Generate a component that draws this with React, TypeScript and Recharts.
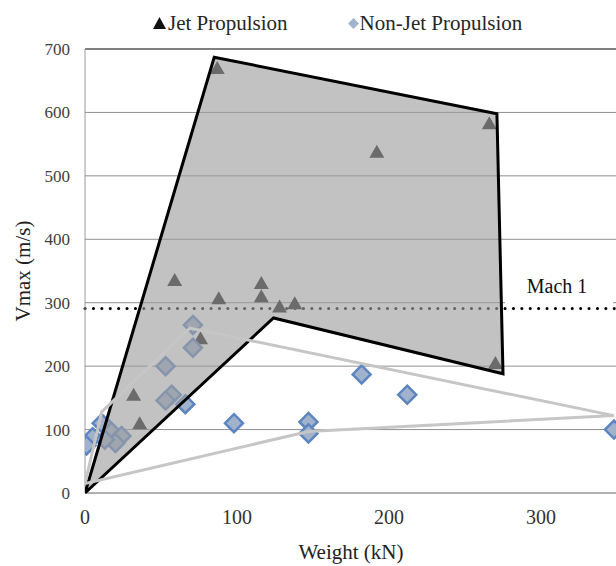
import { ScatterChart, Scatter, XAxis, YAxis, ZAxis, CartesianGrid, ReferenceLine, Legend } from 'recharts';

const xTicks = [0, 100, 200, 300];
const yTicks = [0, 100, 200, 300, 400, 500, 600, 700];

// measured points, weight in kN and Vmax in m/s
const jetWeight = [87, 192, 266, 270, 59, 88, 116, 116, 128, 138, 76, 32, 36];
const jetVmax = [670, 538, 583, 205, 336, 307, 331, 310, 294, 299, 244, 155, 110];

const nonJetWeight = [348, 212, 182, 147, 147, 98, 66, 57, 53, 53, 71, 71, 24, 20, 16, 11, 5, 1, 13];
const nonJetVmax = [100, 155, 187, 112, 94, 110, 140, 155, 146, 200, 229, 265, 90, 79, 100, 110, 88, 75, 84];

// envelope outlines
const jetHullWeight = [0, 85, 271, 275, 124, 0];
const jetHullVmax = [0, 687, 598, 188, 276, 0];
const nonJetHullWeight = [0, 11, 69, 348, 147, 0];
const nonJetHullVmax = [15, 128, 260, 122, 97, 15];

const machOne = 291;

const zip = (xs: number[], ys: number[]) => xs.map((x, i) => ({ weight: x, vmax: ys[i] }));

const jetData = zip(jetWeight, jetVmax);
const nonJetData = zip(nonJetWeight, nonJetVmax);
const jetHull = zip(jetHullWeight, jetHullVmax);
const nonJetHull = zip(nonJetHullWeight, nonJetHullVmax);

const serif = 'Liberation Serif';

const Triangle = (props: any) => {
    const { cx, cy } = props;
    return <polygon points={`${cx},${cy - 7} ${cx + 7.5},${cy + 6} ${cx - 7.5},${cy + 6}`} fill="#151515" />;
};

const Diamond = (props: any) => {
    const { cx, cy } = props;
    return (
        <polygon
            points={`${cx},${cy - 9} ${cx + 9},${cy} ${cx},${cy + 9} ${cx - 9},${cy}`}
            fill="#a1b2cc"
            stroke="#5d85c0"
            strokeWidth={2.5}
        />
    );
};

const NoDot = () => <g />;

const XTick = (props: any) => {
    const { x, y, payload } = props;
    return (
        <text x={x} y={y} dy={14} textAnchor="middle" fontFamily={serif} fontSize={20} fill="#333">
            {payload.value}
        </text>
    );
};

const YTick = (props: any) => {
    const { x, y, payload } = props;
    return (
        <text x={x} y={y} dy={6} textAnchor="end" fontFamily={serif} fontSize={17} fill="#404040">
            {payload.value}
        </text>
    );
};

const XTitle = (props: any) => {
    const { viewBox } = props;
    return (
        <text x={viewBox.x + viewBox.width / 2} y={viewBox.y + viewBox.height - 7} textAnchor="middle" fontFamily={serif} fontSize={21} fill="#222">
            Weight (kN)
        </text>
    );
};

const YTitle = (props: any) => {
    const { viewBox } = props;
    const cx = 30;
    const cy = viewBox.y + viewBox.height / 2;
    return (
        <text x={cx} y={cy} transform={`rotate(-90 ${cx} ${cy})`} textAnchor="middle" fontFamily={serif} fontSize={21} fill="#222">
            Vmax (m/s)
        </text>
    );
};

const MachLabel = (props: any) => {
    const { viewBox } = props;
    const right = viewBox.x + viewBox.width;
    return (
        <g>
            <rect x={right - 112} y={viewBox.y - 40} width={108} height={37} fill="#ffffff" />
            <text x={right - 60} y={viewBox.y - 15} textAnchor="middle" fontFamily={serif} fontSize={20} fill="#111">
                Mach 1
            </text>
        </g>
    );
};

const renderLegend = (props: any) => {
    const payload = (props.payload || []).filter(
        (entry: any) => entry.type !== 'none' && (entry.value === 'Jet Propulsion' || entry.value === 'Non-Jet Propulsion'),
    );
    return (
        <div
            style={{
                height: 30,
                display: 'flex',
                alignItems: 'center',
                paddingLeft: 153,
                fontFamily: serif,
                fontSize: 21,
                color: '#262626',
                whiteSpace: 'nowrap',
            }}
        >
            {payload.map((entry: any, i: number) => (
                <div key={i} style={{ display: 'flex', alignItems: 'center', marginRight: i === 0 ? 60 : 0 }}>
                    {entry.value === 'Jet Propulsion' ? (
                        <svg width={13} height={12} style={{ marginRight: 2 }}>
                            <polygon points="6.5,0 13,12 0,12" fill="#111" />
                        </svg>
                    ) : (
                        <svg width={11} height={11} style={{ marginRight: 1 }}>
                            <polygon points="5.5,0 11,5.5 5.5,11 0,5.5" fill="#a3b3cc" />
                        </svg>
                    )}
                    <span style={{ fontFamily: serif }}>{entry.value}</span>
                </div>
            ))}
        </div>
    );
};

const App = () => {
    return (
        <div
            style={{
                position: 'absolute',
                left: 0,
                top: 0,
                width: 616,
                height: 566,
                overflow: 'hidden',
                background: '#fff',
                fontFamily: serif,
            }}
        >
            <ScatterChart width={617} height={566} margin={{ top: 19, right: 0, bottom: 0, left: 0 }}>
                <CartesianGrid vertical={false} stroke="#8f8f8f" />
                <XAxis
                    type="number"
                    dataKey="weight"
                    domain={[0, 350]}
                    ticks={xTicks}
                    height={73}
                    stroke="#9a9a9a"
                    tickLine={false}
                    tickSize={0}
                    tickMargin={17}
                    tick={<XTick />}
                    label={<XTitle />}
                    allowDataOverflow
                />
                <YAxis
                    type="number"
                    dataKey="vmax"
                    domain={[0, 700]}
                    ticks={yTicks}
                    width={85}
                    stroke="#9a9a9a"
                    tickLine={false}
                    tickSize={0}
                    tickMargin={15}
                    tick={<YTick />}
                    label={<YTitle />}
                />
                <ZAxis range={[60, 60]} />
                <Legend verticalAlign="top" content={renderLegend} wrapperStyle={{ top: 8, left: 0, width: 617 }} />
                <Scatter name="Jet Propulsion" data={jetData} shape={<Triangle />} isAnimationActive={false} />
                <Scatter name="Non-Jet Propulsion" data={nonJetData} shape={<Diamond />} isAnimationActive={false} />
                <Scatter
                    name="Jet envelope"
                    data={jetHull}
                    legendType="none"
                    line={{ stroke: '#000', strokeWidth: 3, fill: '#9f9f9f', fillOpacity: 0.63, strokeLinejoin: 'miter' }}
                    lineType="joint"
                    shape={<NoDot />}
                    isAnimationActive={false}
                />
                <Scatter
                    name="Non-jet envelope"
                    data={nonJetHull}
                    legendType="none"
                    line={{ stroke: '#c6c6c6', strokeWidth: 3, fill: 'none' }}
                    lineType="joint"
                    shape={<NoDot />}
                    isAnimationActive={false}
                />
                <ReferenceLine y={700} stroke="#3a3a3a" />
                <ReferenceLine
                    y={machOne}
                    stroke="#000"
                    strokeWidth={3}
                    strokeDasharray="0.1 8.3"
                    strokeLinecap="round"
                    label={<MachLabel />}
                />
            </ScatterChart>
        </div>
    );
};

export default App;
